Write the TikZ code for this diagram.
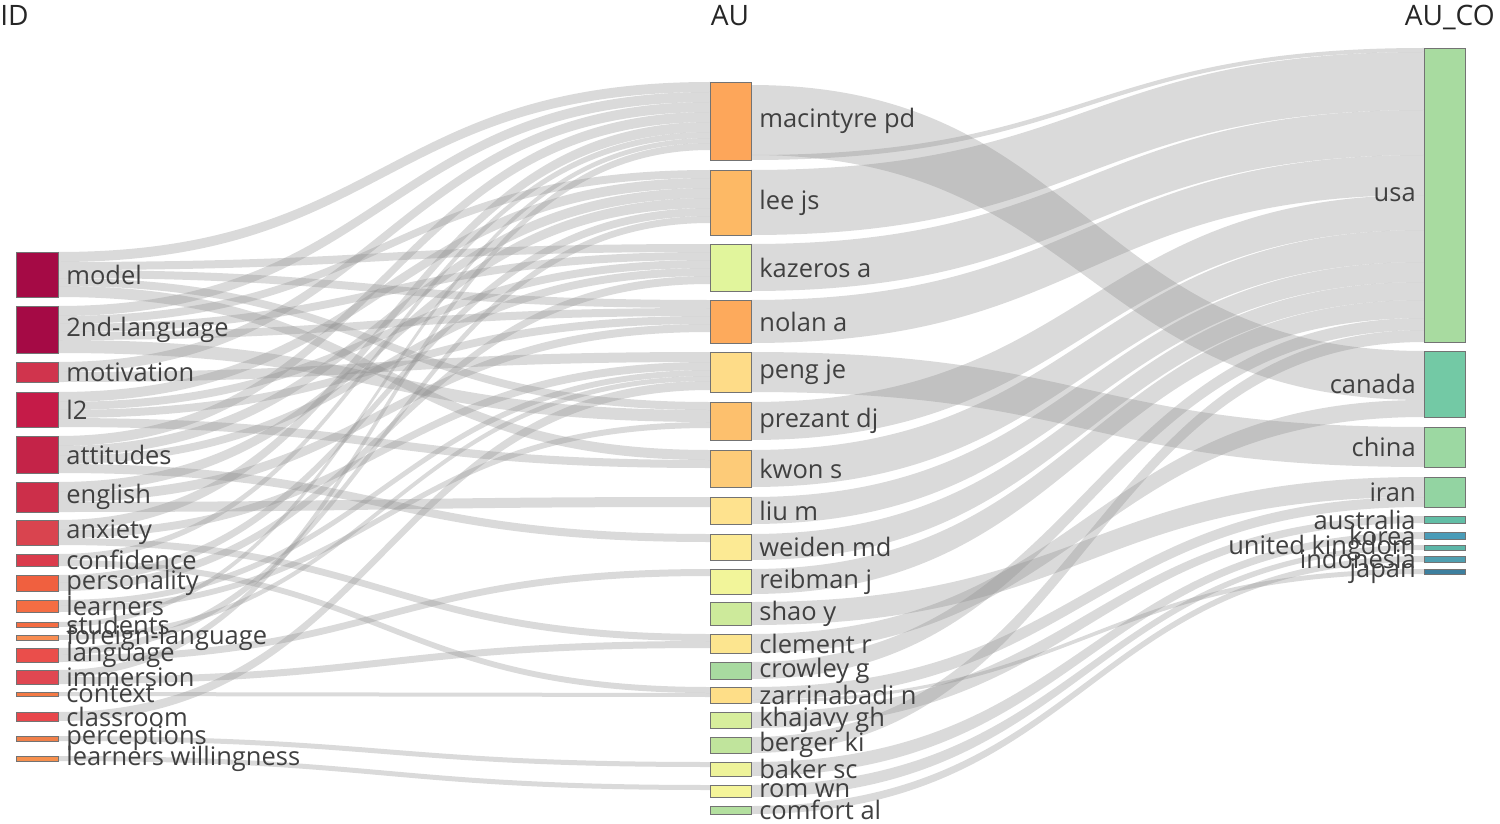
\documentclass[tikz,border=0pt]{standalone}
\usepackage{fontspec}
\setmainfont{Open Sans}
\begin{document}
\begin{tikzpicture}[x=0.02cm,y=-0.02cm,
 lnk/.style={fill=black!45,fill opacity=0.32},
 bx/.style={draw=black!55,line width=0.5pt},
 lt/.style={anchor=west,font=\fontsize{14.5}{14.5}\selectfont,text=black!75,inner sep=0pt},
 rt/.style={anchor=east,font=\fontsize{14.5}{14.5}\selectfont,text=black!75,inner sep=0pt},
 hd/.style={font=\fontsize{16}{16}\selectfont,text=black!85,inner sep=0pt}]
\useasboundingbox (0,0) rectangle (1500,824);
\newcommand\lk[6]{\fill[lnk] (#1,#2) .. controls ({(#1+#4)/2},#2) and ({(#1+#4)/2},#5) .. (#4,#5) -- (#4,#6) .. controls ({(#1+#4)/2},#6) and ({(#1+#4)/2},#3) .. (#1,#3) -- cycle;}
\newcommand\la[4]{\lk{58}{#1}{#2}{710}{#3}{#4}}
\newcommand\lb[4]{\lk{751}{#1}{#2}{1424}{#3}{#4}}
% ID -> AU
\la{252}{262}{82}{92}\la{262}{270}{244}{252}\la{270}{278}{300}{308}\la{278}{286}{402}{410}\la{286}{297}{450}{460}
\la{306}{316}{92}{102}\la{316}{324}{170}{178}\la{324}{332}{252}{260}\la{332}{340}{308}{316}\la{340}{353}{410}{422}
\la{362}{372}{102}{112}\la{372}{382}{352}{362}
\la{392}{402}{178}{188}\la{402}{410}{260}{268}\la{410}{418}{316}{324}\la{418}{427}{460}{468}
\la{436}{446}{112}{122}\la{446}{456}{188}{198}\la{456}{464}{268}{276}\la{464}{473}{534}{542}
\la{482}{492}{198}{208}\la{492}{502}{324}{332}\la{502}{512}{497}{507}
\la{520}{530}{122}{132}\la{530}{538}{362}{370}\la{538}{545}{634}{641}
\la{554}{560}{132}{138}\la{560}{566}{687}{693}
\la{575}{583}{208}{216}\la{583}{591}{276}{284}
\la{600}{606}{370}{376}\la{606}{612}{422}{428}
\la{622}{627}{138}{143}\la{635}{640}{376}{381}
\la{648}{655}{216}{223}\la{655}{662}{569}{576}
\la{670}{677}{143}{150}\la{677}{684}{641}{648}
\la{692}{696}{693}{697}\la{712}{721}{381}{390}
\la{736}{741}{762}{767}\la{756}{761}{785}{790}
% AU -> AU_CO
\lb{85}{155}{351}{400}\lb{155}{160}{48}{52}\lb{170}{235}{52}{110}\lb{244}{291}{110}{155}
\lb{300}{343}{155}{195}\lb{352}{392}{427}{467}\lb{402}{440}{195}{230}\lb{450}{487}{230}{262}
\lb{497}{524}{262}{282}\lb{534}{560}{282}{300}\lb{569}{594}{300}{318}\lb{602}{625}{477}{497}
\lb{634}{653}{400}{417}\lb{662}{679}{318}{330}\lb{687}{700}{497}{507}\lb{700}{703}{569}{574}
\lb{712}{728}{516}{523}\lb{737}{753}{330}{342}\lb{762}{776}{532}{539}\lb{785}{797}{545}{550}
\lb{806}{814}{556}{562}
% headers
\node[hd,anchor=north west] (hid) at (0,5) {ID};
\node[hd,anchor=north] (hau) at (730,5) {AU};
\node[hd,anchor=north east] (hco) at (1495,5) {AU\_CO};
% ID nodes
\foreach \n/\a/\b/\c/\t in {
 model/252/297/A50A45/model, lang2/306/353/A50A45/2nd-language, mot/362/382/D0344D/motivation,
 ltwo/392/427/C51B48/l2, att/436/473/C42348/attitudes, eng/482/512/CC2F4A/english,
 anx/520/545/D9444F/anxiety, conf/554/566/DA3B4C/confidence, pers/575/591/F0603F/personality,
 lrn/600/612/F46D43/learners, stu/622/627/F46D43/students, fl/635/640/F88D52/foreign-language,
 lng/648/662/EA4E4B/language, imm/670/684/E04751/immersion, ctx/692/696/F47A45/context,
 cls/712/721/E8474C/classroom, perc/736/741/F0804A/perceptions, lw/756/761/F6904E/learners willingness}{
 \definecolor{cc}{HTML}{\c}
 \fill[bx,fill=cc] (16,\a) rectangle (58,\b);
 \node[lt] (\n) at (66,{(\a+\b)/2}) {\t};
}
% AU nodes
\foreach \n/\a/\b/\c/\t in {
 mac/82/160/FDA65A/macintyre pd, lee/170/235/FDB965/lee js, kaz/244/291/E1F59C/kazeros a,
 nol/300/343/FDAA5C/nolan a, peng/352/392/FEDC88/peng je, prez/402/440/FDC06D/prezant dj,
 kwon/450/487/FDCB78/kwon s, liu/497/524/FEE28E/liu m, wei/534/560/FCEA94/weiden md,
 reib/569/594/F2F59A/reibman j, shao/602/625/CDEA9B/shao y, clem/634/653/FCE58F/clement r,
 crow/662/679/A8DAA0/crowley g, zar/687/703/FEDE88/zarrinabadi n, kha/712/728/D7EE9C/khajavy gh,
 ber/737/753/C0E49C/berger ki, bak/762/776/EEF39A/baker sc, rom/785/797/F5F59A/rom wn,
 com/806/814/B3DF9F/comfort al}{
 \definecolor{cc}{HTML}{\c}
 \fill[bx,fill=cc] (710,\a) rectangle (751,\b);
 \node[lt] (\n) at (759,{(\a+\b)/2}) {\t};
}
% AU_CO nodes
\foreach \n/\a/\b/\c/\t in {
 usa/48/342/A8DBA0/usa, can/351/417/73C9A5/canada, chi/427/467/9CD8A2/china,
 iran/477/507/93D4A2/iran, aus/516/523/62BEA6/australia, kor/532/539/4A9CB8/korea,
 uk/545/550/5DB6A8/united kingdom, ind/556/562/4F9FB0/indonesia, jap/569/574/3D7F9E/japan}{
 \definecolor{cc}{HTML}{\c}
 \fill[bx,fill=cc] (1424,\a) rectangle (1465,\b);
 \node[rt] (\n) at (1416,{(\a+\b)/2}) {\t};
}
\end{tikzpicture}
\end{document}
